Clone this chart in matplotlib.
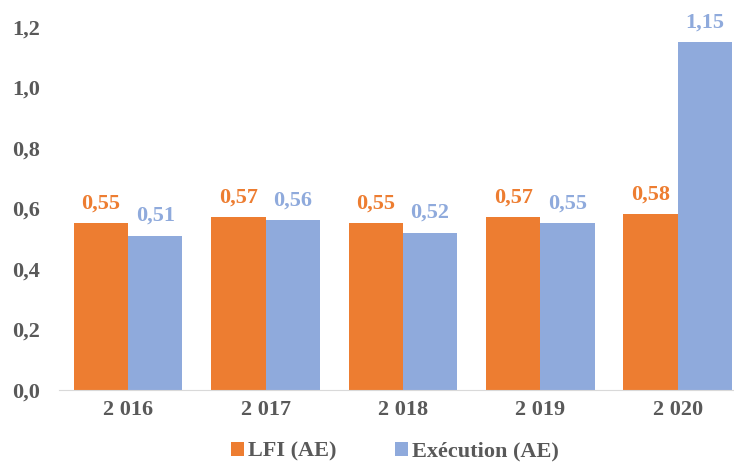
import numpy as np
import matplotlib.pyplot as plt

years = ["2 016", "2 017", "2 018", "2 019", "2 020"]
lfi = [0.55, 0.57, 0.55, 0.57, 0.58]
execution = [0.51, 0.56, 0.52, 0.55, 1.15]
y_ticks = [0.0, 0.2, 0.4, 0.6, 0.8, 1.0, 1.2]

orange = "#ED7D31"
blue = "#8FAADC"
grey = "#595959"
fs = 16

plt.rcParams["font.family"] = ["Liberation Serif", "DejaVu Serif"]
plt.rcParams["font.weight"] = "bold"

fig = plt.figure(figsize=(7.34, 4.62), dpi=100)
ax = fig.add_axes([0.081, 0.156, 0.919, 0.786])

x = np.arange(len(years))
w = 0.395
b1 = ax.bar(x - w / 2, lfi, w, color=orange, label="LFI (AE)")
b2 = ax.bar(x + w / 2, execution, w, color=blue, label="Exécution (AE)")

for bars, vals, col in [(b1, lfi, orange), (b2, execution, blue)]:
    for r, v in zip(bars, vals):
        ax.annotate(f"{v:.2f}".replace(".", ","),
                    (r.get_x() + r.get_width() / 2, v),
                    xytext=(0, 7), textcoords="offset points",
                    ha="center", va="bottom", color=col,
                    fontsize=fs, fontweight="bold")

ax.set_xlim(-0.5, 4.41)
ax.set_ylim(0, 1.2)
ax.set_xticks(x)
ax.set_xticklabels(years, fontsize=fs, color=grey, fontweight="bold")
ax.set_yticks(y_ticks)
ax.set_yticklabels([f"{t:.1f}".replace(".", ",") for t in y_ticks],
                   fontsize=fs, color=grey, fontweight="bold")
ax.tick_params(length=0)
ax.tick_params(axis="x", pad=7)
ax.tick_params(axis="y", pad=14)

for s in ["top", "right", "left"]:
    ax.spines[s].set_visible(False)
ax.spines["bottom"].set_color("#D9D9D9")

fig.legend(handles=[b1, b2], loc="center", bbox_to_anchor=(0.538, 0.022),
           ncol=2, frameon=False, handlelength=0.6,
           handleheight=0.6, handletextpad=0.2, columnspacing=2.6,
           labelcolor=grey, prop={"weight": "bold", "size": fs})

fig.savefig("out.png", dpi=100)
